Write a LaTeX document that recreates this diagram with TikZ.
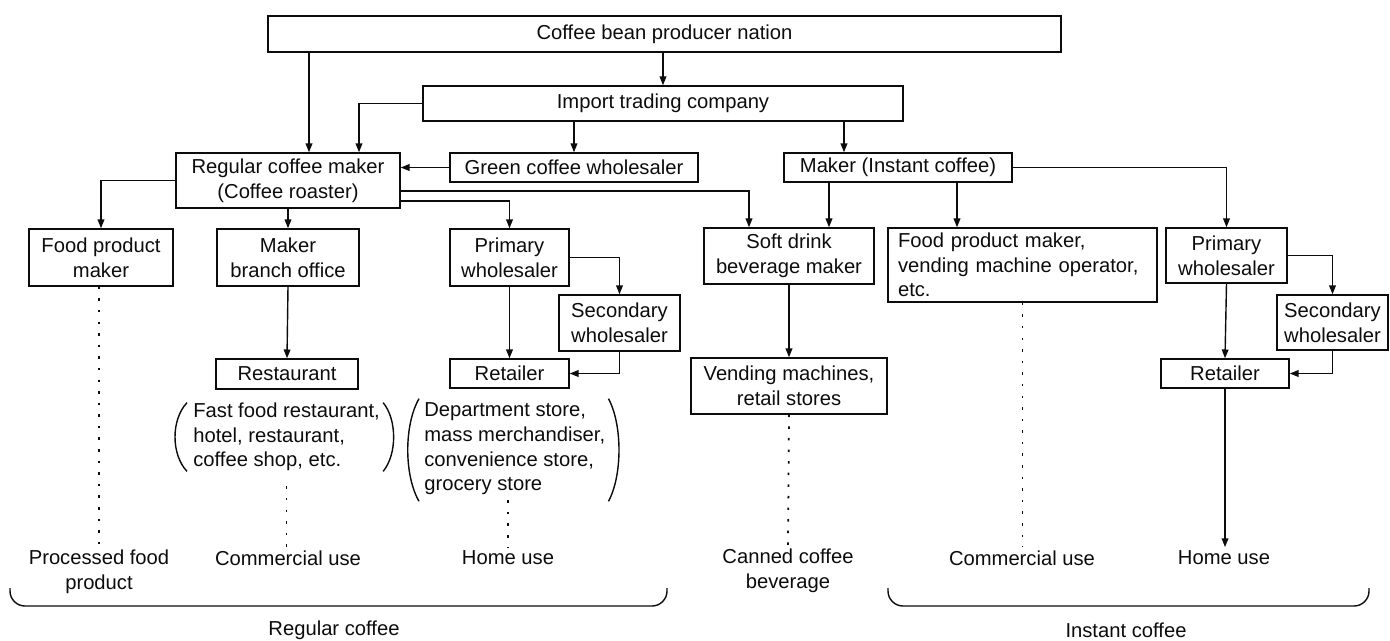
\documentclass[tikz,border=0pt]{standalone}
\usepackage{fontspec}
\setmainfont{Liberation Sans}
\usepackage{tikz}
\usetikzlibrary{arrows.meta,positioning,calc}
\definecolor{ink}{HTML}{0C0C0C}
\tikzset{
  chainbox/.style={rectangle,draw=ink,line width=0.85pt,text=ink,align=center,
    font=\fontsize{11.5}{14}\selectfont,inner sep=2pt,minimum height=0.58cm},
  chaintall/.style={chainbox,minimum height=1.12cm},
  chainlabel/.style={text=ink,align=center,font=\fontsize{11.5}{14}\selectfont,inner sep=2pt},
  chainlist/.style={text=ink,align=left,font=\fontsize{11.5}{14}\selectfont,inner sep=0pt,anchor=west},
  chainarr/.style={-{Triangle[length=5pt,width=3.8pt]},line width=0.8pt,color=ink},
  chaindot/.style={line width=1pt,color=ink,dash pattern=on 1.4pt off 5.2pt},
  chainline/.style={line width=0.8pt,color=ink},
}
\begin{document}
\begin{tikzpicture}[x=0.02cm,y=-0.02cm]
  \useasboundingbox (0,0) rectangle (1390,640);

  % upstream
  \node[chainbox, minimum width=15.86cm, minimum height=0.72cm] (top) at (664.5,34) {Coffee bean producer nation};
  \node[chainbox, minimum width=9.6cm, minimum height=0.7cm] (imp) at (663,103.5) {Import trading company};
  \node[chaintall, minimum width=4.48cm, minimum height=1.1cm] (reg) at (288,180.5) {Regular coffee maker\\(Coffee roaster)};
  \node[chainbox, minimum width=4.96cm] (green) at (574,167.5) {Green coffee wholesaler};
  \node[chainbox, minimum width=4.56cm] (inst) at (898,167.5) {Maker (Instant coffee)};

  % regular coffee side
  \node[chaintall, minimum width=2.88cm, minimum height=1.14cm] (foodl) at (101,257.5) {Food product\\maker};
  \node[chaintall, minimum width=2.84cm, minimum height=1.14cm] (branch) at (288,257.5) {Maker\\branch office};
  \node[chaintall, minimum width=2.38cm, minimum height=1.14cm] (prim1) at (509.5,257.5) {Primary\\wholesaler};
  \node[chaintall, minimum width=2.42cm] (sec1) at (619.5,323) {Secondary\\wholesaler};
  \node[chainbox, minimum width=2.38cm] (ret1) at (509.5,373.5) {Retailer};
  \node[chainbox, minimum width=2.84cm, minimum height=0.6cm] (rest) at (287,374) {Restaurant};
  \node[chainlist] (restlist) at (193,437) {Fast food restaurant,\\hotel, restaurant,\\coffee shop, etc.};
  \node[chainlist] (deptlist) at (424,449) {Department store,\\mass merchandiser,\\convenience store,\\grocery store};

  % instant coffee side
  \node[chaintall, minimum width=3.4cm] (soft) at (789,256) {Soft drink\\beverage maker};
  \node[chaintall, minimum width=3.92cm] (vend) at (789,386) {Vending machines,\\retail stores};
  \node[chainbox, align=left, text width=4.98cm, inner xsep=0.2cm, minimum height=1.48cm] (foodv) at (1022.5,265) {Food product maker,\\vending machine operator,\\etc.};
  \node[chaintall, minimum width=2.42cm, minimum height=1.1cm] (prim2) at (1226.5,255.5) {Primary\\wholesaler};
  \node[chaintall, minimum width=2.22cm, minimum height=1.1cm] (sec2) at (1332.5,322.5) {Secondary\\wholesaler};
  \node[chainbox, minimum width=2.56cm] (ret2) at (1225,373.5) {Retailer};

  % end uses
  \node[chainlabel] (proc) at (99,572) {Processed food\\product};
  \node[chainlabel] (comm1) at (288,558) {Commercial use};
  \node[chainlabel] (home1) at (508,558) {Home use};
  \node[chainlabel] (canned) at (788,571) {Canned coffee\\beverage};
  \node[chainlabel] (comm2) at (1022,558) {Commercial use};
  \node[chainlabel] (home2) at (1224,558) {Home use};
  \node[chainlabel] (regcof) at (334,630) {Regular coffee};
  \node[chainlabel] (instcof) at (1126,630) {Instant coffee};

  % connector end points
  \coordinate (regtop1) at ($(reg.north)+(21,0)$);
  \coordinate (regtop2) at ($(reg.north)+(71,0)$);
  \coordinate (regout1) at ($(reg.east)+(0,10.5)$);
  \coordinate (regout2) at ($(reg.east)+(0,20.5)$);
  \coordinate (insttop) at ($(inst.north)+(-54,0)$);
  \coordinate (instbot1) at ($(inst.south)+(-69,0)$);
  \coordinate (instbot2) at ($(inst.south)+(59,0)$);
  \coordinate (softtop) at ($(soft.north)+(-40,0)$);

  \draw[chainarr] (top.south -| regtop1) -- (regtop1);
  \draw[chainarr] (top.south -| imp.north) -- (imp.north);
  \draw[chainarr] (imp.west) -| (regtop2);
  \draw[chainarr] (imp.south -| green.north) -- (green.north);
  \draw[chainarr] (imp.south -| insttop) -- (insttop);
  \draw[chainarr] (green.west) -- (green.west -| reg.east);
  \draw[chainarr] (reg.west) -| (foodl.north);
  \draw[chainarr] (reg.south) -- (branch.north);
  \draw[chainarr] (regout2) -| (prim1.north);
  \draw[chainarr] (regout1) -| (softtop);
  \draw[chainarr] (instbot1) -- (instbot1 |- soft.north);
  \draw[chainarr] (instbot2) -- (instbot2 |- foodv.north);
  \draw[chainarr] (inst.east) -| (prim2.north);
  \draw[chainarr] (branch.south) -- (rest.north);
  \draw[chainarr] (prim1.east) -| (sec1.north);
  \draw[chainarr] (prim1.south) -- (ret1.north);
  \draw[chainarr] (sec1.south) |- (ret1.east);
  \draw[chainarr] (soft.south) -- (vend.north);
  \draw[chainarr] (prim2.east) -| (sec2.north);
  \draw[chainarr] (prim2.south) -- (ret2.north);
  \draw[chainarr] (sec2.south) |- (ret2.east);
  \draw[chainarr] (ret2.south) -- (ret2.south |- home2.north);

  \draw[chaindot] (foodl.south -| proc.north) -- (proc.north);
  \draw[chaindot, shorten <=0.3cm] (restlist.south) -- (restlist.south |- comm1.north);
  \draw[chaindot, shorten <=0.1cm] (deptlist.south -| home1.north) -- (home1.north);
  \draw[chaindot] (vend.south) -- (canned.north);
  \draw[chaindot] (foodv.south) -- (foodv.south |- comm2.north);

  % brackets round the lists
  \draw[chainline] ($(restlist.north west)+(-6,0)$) .. controls +(-16,17) and +(-16,-17) .. ($(restlist.south west)+(-6,0)$);
  \draw[chainline] ($(restlist.north east)+(3,0)$) .. controls +(14,17) and +(14,-17) .. ($(restlist.south east)+(3,0)$);
  \draw[chainline] ($(deptlist.north west)+(-5,-4)$) .. controls +(-15,26) and +(-15,-26) .. ($(deptlist.south west)+(-5,6)$);
  \draw[chainline] ($(deptlist.north east)+(3,-4)$) .. controls +(14,26) and +(14,-26) .. ($(deptlist.south east)+(3,6)$);

  % group braces
  \draw[chainline, rounded corners=0.3cm] (10,588) -- (10,606) -- (667,606) -- (667,588);
  \draw[chainline, rounded corners=0.3cm] (888,588) -- (888,606) -- (1369,606) -- (1369,588);
\end{tikzpicture}
\end{document}
